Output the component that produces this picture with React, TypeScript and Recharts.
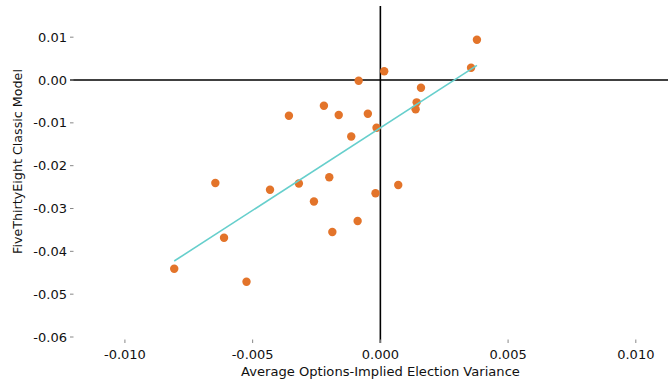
import React from 'react';
import { ScatterChart, Scatter, XAxis, YAxis, ReferenceLine } from 'recharts';

const optionsVariance = [
  0.00378, 0.00355, 0.00015, -0.00085, 0.00159, 0.00142, 0.00138, -0.00358, -0.00221,
  -0.00163, -0.00049, -0.00015, -0.00114, -0.00646, -0.00319, -0.00432, -0.002, -0.0026,
  0.0007, -0.00019, -0.00612, -0.00188, -0.00089, -0.00807, -0.00524,
];
const classicModel = [
  0.00941, 0.00287, 0.00203, -0.00016, -0.0018, -0.00521, -0.00684, -0.00834, -0.006,
  -0.00817, -0.00787, -0.01114, -0.01319, -0.02405, -0.02417, -0.02561, -0.02269, -0.02837,
  -0.02452, -0.02643, -0.03682, -0.03549, -0.03292, -0.04406, -0.04709,
];
const fitX = [-0.00807, 0.00378];
const fitY = [-0.04226, 0.00343];
const xTicks = [-0.01, -0.005, 0, 0.005, 0.01];
const yTicks = [0.01, 0, -0.01, -0.02, -0.03, -0.04, -0.05, -0.06];
const xLabel = 'Average Options-Implied Election Variance';
const yLabel = 'FiveThirtyEight Classic Model';

const points = optionsVariance.map((x, i) => ({ x, y: classicModel[i] }));
const fitLine = fitX.map((x, i) => ({ x, y: fitY[i] }));

const FONT = '"DejaVu Sans", sans-serif';

const YTick = (props: any) => {
  const { x, y, payload } = props;
  return (
    <g>
      <line x1={x} x2={x + 3.5} y1={y} y2={y} stroke="#888" strokeWidth={1} />
      <text x={x - 3} y={y} dy="0.35em" textAnchor="end" fontSize={13} fontFamily={FONT} fill="#111">
        {Number(payload.value).toFixed(2)}
      </text>
    </g>
  );
};

const XTick = (props: any) => {
  const { x, y, payload } = props;
  return (
    <g>
      <line x1={x} x2={x} y1={y} y2={y - 3.5} stroke="#888" strokeWidth={1} />
      <text x={x} y={y + 11} dy="0.35em" textAnchor="middle" fontSize={13} fontFamily={FONT} fill="#111">
        {Number(payload.value).toFixed(3)}
      </text>
    </g>
  );
};

const Dot = (props: any) => <circle cx={props.cx} cy={props.cy} r={4.2} fill="#e3742a" />;
const NoDot = () => <g />;

export default function App() {
  return (
    <div style={{ position: 'absolute', left: 0, top: 0, width: 668, height: 381, background: '#fff' }}>
      <ScatterChart width={668} height={381} margin={{ top: 6, right: 0, bottom: 0, left: 0 }}>
        <XAxis
          type="number"
          dataKey="x"
          domain={[-0.01215, 0.01126]}
          ticks={xTicks}
          allowDataOverflow
          axisLine={false}
          tickLine={false}
          tickSize={0}
          tickMargin={0}
          height={38}
          tick={<XTick />}
          label={(p: any) => (
            <text x={380.5} y={371} dy="0.35em" textAnchor="middle" fontSize={13.1} fontFamily={FONT} fill="#111">
              {xLabel}
            </text>
          )}
        />
        <YAxis
          type="number"
          dataKey="y"
          domain={[-0.0614, 0.01728]}
          ticks={yTicks}
          allowDataOverflow
          axisLine={false}
          tickLine={false}
          tickSize={0}
          tickMargin={0}
          width={70}
          tick={<YTick />}
          label={(p: any) => (
            <text
              x={18}
              y={161.5}
              dy="0.35em"
              textAnchor="middle"
              fontSize={12.7}
              fontFamily={FONT}
              fill="#111"
              transform="rotate(-90 18 161.5)"
            >
              {yLabel}
            </text>
          )}
        />
        <Scatter data={points} shape={<Dot />} isAnimationActive={false} />
        <Scatter
          data={fitLine}
          line={{ stroke: '#66cfcc', strokeWidth: 1.6 }}
          lineType="joint"
          shape={<NoDot />}
          isAnimationActive={false}
        />
        <ReferenceLine x={0} stroke="#000" strokeWidth={1.6} />
        <ReferenceLine y={0} stroke="#000" strokeWidth={1.6} />
      </ScatterChart>
    </div>
  );
}
